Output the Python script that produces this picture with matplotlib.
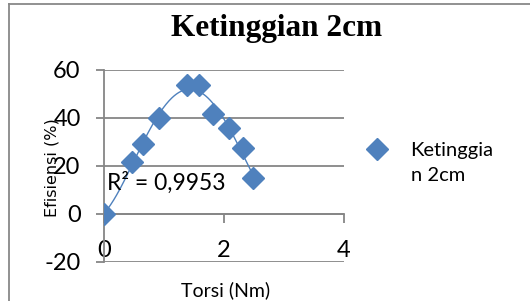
import numpy as np
import matplotlib
matplotlib.use('Agg')
import matplotlib.pyplot as plt
from matplotlib.lines import Line2D

TITLE = 'Ketinggian 2cm'
SERIES = 'Ketinggian 2cm'
X_LABEL = 'Torsi (Nm)'
Y_LABEL = 'Efisiensi (%)'
R2_TEXT = 'R² = 0,9953'

# Values
torsi = [0, 0.47, 0.65, 0.92, 1.38, 1.58, 1.82, 2.08, 2.32, 2.48]
efisiensi = [0, 21.5, 29.0, 39.8, 53.5, 53.5, 41.5, 35.6, 27.3, 14.8]
x_ticks = [0, 2, 4]
y_ticks = [-20, 0, 20, 40, 60]

BLUE = '#4F81BD'
GRID = '#868686'
FONT = ['Lato', 'DejaVu Sans']

plt.rcParams['font.family'] = FONT
plt.rcParams['axes.unicode_minus'] = False

fig = plt.figure(figsize=(5.30, 3.01), dpi=100)
ax = fig.add_axes([0.1962, 0.1312, 0.4528, 0.6379])

# Data points
ax.plot(torsi, efisiensi, linestyle='none', marker='D', markersize=11,
        color=BLUE, zorder=4)

# Polynomial trendline over the data range
coef = np.polyfit(torsi, efisiensi, 4)
xs = np.linspace(min(torsi), max(torsi), 200)
ax.plot(xs, np.polyval(coef, xs), color=BLUE, linewidth=1.0, zorder=3)

ax.text(0.05, 13, R2_TEXT, fontsize=16.5, va='center', ha='left', zorder=5)

ax.set_xlim(x_ticks[0], x_ticks[-1])
ax.set_ylim(y_ticks[0], y_ticks[-1])
ax.set_xticks(x_ticks)
ax.set_yticks(y_ticks)
ax.grid(True, axis='y', color=GRID, linewidth=1.3)
ax.set_axisbelow(True)

for side in ['top', 'right']:
    ax.spines[side].set_visible(False)
ax.spines['bottom'].set_position(('data', 0))
for side in ['left', 'bottom']:
    ax.spines[side].set_color(GRID)
    ax.spines[side].set_linewidth(1.3)

ax.tick_params(axis='y', direction='out', length=5.8, width=1.3,
               color=GRID, labelsize=17, pad=11)
ax.tick_params(axis='x', direction='out', length=6.5, width=1.3,
               color=GRID, labelsize=17, pad=12.5)

ax.set_xlabel(X_LABEL, fontsize=14, va='center')
ax.xaxis.set_label_coords(0.508, -0.148)
ax.set_ylabel(Y_LABEL, fontsize=11.5, va='center',
              family=['Liberation Sans Narrow', 'DejaVu Sans'])
ax.yaxis.set_label_coords(-0.217, 0.487)

fig.text(277 / 530, 1 - 36 / 301, TITLE, ha='center', va='baseline',
         fontsize=22.5, fontweight='bold', family=['Liberation Serif'])

# Legend, series name wrapped over two lines as in the reference
first, second = SERIES[:9], SERIES[9:]
handles = [Line2D([], [], linestyle='none', marker='D', markersize=11,
                  color=BLUE),
           Line2D([], [], linestyle='none')]
fig.legend(handles, [first, second], loc='upper left',
           bbox_to_anchor=(0.693, 0.530), frameon=False, fontsize=14.5,
           borderpad=0, borderaxespad=0, handlelength=1.0,
           handletextpad=1.15, labelspacing=0.42)

# Outer frame (only top and left edges visible in the reference)
fig.add_artist(Line2D([9 / 530, 9 / 530], [0, 1 - 4 / 301],
                      transform=fig.transFigure, color='#888888', lw=1.3))
fig.add_artist(Line2D([9 / 530, 1], [1 - 4 / 301, 1 - 4 / 301],
                      transform=fig.transFigure, color='#888888', lw=1.3))

fig.savefig('out.png', dpi=100)
